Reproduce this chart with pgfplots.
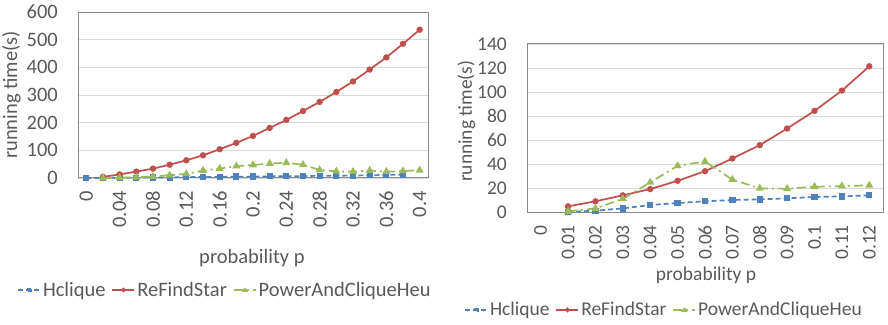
\documentclass[border=0pt]{standalone}
\usepackage{pgfplots}
\pgfplotsset{compat=1.18}
\usepackage{fontspec}
\setmainfont{Carlito}
\definecolor{txt}{HTML}{595959}
\definecolor{cblue}{HTML}{4F81BD}
\definecolor{cred}{HTML}{C0504D}
\definecolor{cgreen}{HTML}{9BBB59}
\definecolor{gridc}{HTML}{D9D9D9}
\definecolor{axc}{HTML}{8C8C8C}
\pgfplotsset{
  excel/.style={
    scale only axis,
    anchor=south west,
    axis line style={draw=axc, line width=1pt},
    ymajorgrids, grid style={draw=gridc, line width=0.8pt},
    major tick length=0pt,
    tick label style={text=txt},
    label style={text=txt},
    /pgf/number format/assume math mode=true,
    y tick label style={inner sep=0pt, xshift=-20pt, anchor=east},
    x tick label style={rotate=90, anchor=east, inner sep=0pt},
    xticklabel shift=13pt,
    legend columns=3,
    legend style={draw=none, fill=none, text=txt, anchor=center, inner sep=0pt,
      /tikz/every even column/.append style={column sep=4pt}},
    legend image code/.code={\draw[mark repeat=2,mark phase=2,mark options={scale=0.65}] plot coordinates {(0pt,0pt) (11pt,0pt) (22pt,0pt)};},
    clip=false,
  },
  hcl/.style={cblue, line width=1.7pt, dash pattern=on 5pt off 3pt, mark=square*, mark size=2.3pt, mark options={solid}},
  rfs/.style={cred, line width=1.7pt, mark=*, mark size=2.3pt},
  pac/.style={cgreen, line width=1.7pt, dash pattern=on 9pt off 4pt on 2pt off 4pt, mark=triangle*, mark size=3pt, mark options={solid}},
}
\begin{document}
\begin{tikzpicture}
\path[use as bounding box] (0pt,0pt) rectangle (888pt,324pt);
% ---------- left ----------
\begin{axis}[excel,
  at={(78pt,146pt)}, width=350pt, height=166pt,
  font=\fontsize{20.5}{24}\selectfont,
  xmin=-0.5, xmax=20.5, ymin=0, ymax=600, ytick={0,100,...,600},
  xtick={0,2,...,20},
  xticklabels={0,0.04,0.08,0.12,0.16,0.2,0.24,0.28,0.32,0.36,0.4},
  xlabel={probability p}, ylabel={running time(s)},
  xlabel style={at={(axis description cs:0.497,-0.48)}, anchor=center},
  ylabel style={at={(axis description cs:-0.19,0.5)}, anchor=center},
  legend style={at={(0.42,-0.675)}},
]
\addplot[hcl] coordinates {(0,0)(1,0)(2,1)(3,1)(4,2)(5,2)(6,3)(7,4)(8,4)(9,5)(10,5)(11,6)(12,6)(13,7)(14,8)(15,8)(16,9)(17,10)(18,11)(19,12)};
\addplot[rfs] coordinates {(1,4)(2,13)(3,23)(4,34)(5,48)(6,64)(7,82)(8,104)(9,127)(10,152)(11,181)(12,210)(13,242)(14,275)(15,311)(16,349)(17,392)(18,436)(19,485)(20,536)};
\addplot[pac] coordinates {(1,0)(2,1)(3,3)(4,5)(5,10)(6,15)(7,27)(8,34)(9,43)(10,47)(11,52)(12,55)(13,48)(14,29)(15,24)(16,23)(17,27)(18,23)(19,25)(20,28)};
\legend{Hclique,ReFindStar,PowerAndCliqueHeu}
\end{axis}
% ---------- right ----------
\begin{axis}[excel,
  at={(527pt,112pt)}, width=356pt, height=168pt,
  font=\fontsize{19.5}{23}\selectfont,
  xmin=-0.5, xmax=12.5, ymin=0, ymax=140, ytick={0,20,...,140},
  xtick={0,1,...,12},
  xticklabels={0,0.01,0.02,0.03,0.04,0.05,0.06,0.07,0.08,0.09,0.1,0.11,0.12},
  xlabel={probability p}, ylabel={running time(s)},
  xlabel style={at={(axis description cs:0.503,-0.375)}, anchor=center},
  ylabel style={at={(axis description cs:-0.17,0.54)}, anchor=center},
  legend style={at={(0.385,-0.583)}},
]
\addplot[hcl] coordinates {(1,0)(2,1.1)(3,3)(4,5.8)(5,7.5)(6,8.9)(7,10)(8,10.5)(9,11.4)(10,12.5)(11,13)(12,13.9)};
\addplot[rfs] coordinates {(1,4.7)(2,8.9)(3,13.9)(4,19.1)(5,26)(6,34)(7,44.6)(8,55.7)(9,69.6)(10,84.3)(11,101.2)(12,121.4)};
\addplot[pac] coordinates {(1,0.5)(2,3)(3,11)(4,24.7)(5,38.5)(6,42.1)(7,27)(8,19.7)(9,19.4)(10,21)(11,21.6)(12,22.2)};
\legend{Hclique,ReFindStar,PowerAndCliqueHeu}
\end{axis}
\end{tikzpicture}
\end{document}
